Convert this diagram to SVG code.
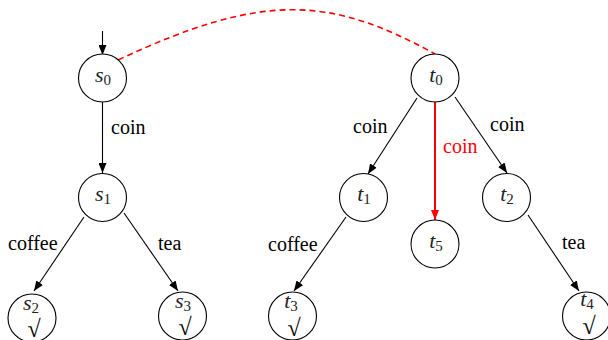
<svg xmlns="http://www.w3.org/2000/svg" width="608" height="340" viewBox="0 0 608 340">
<defs>
<marker id="ah" markerUnits="userSpaceOnUse" markerWidth="11" markerHeight="8" refX="10" refY="4" orient="auto"><path d="M0,0 L10,4 L0,8 z" fill="#000"/></marker>
<marker id="ahr" markerUnits="userSpaceOnUse" markerWidth="11" markerHeight="8" refX="10" refY="4" orient="auto"><path d="M0,0 L10,4 L0,8 z" fill="#f00"/></marker>
</defs>
<g id="connectors" stroke="#000" stroke-width="1.1" fill="none" marker-end="url(#ah)">
<line x1="102.5" y1="31" x2="102.5" y2="55"/>
<line x1="102.5" y1="102" x2="102.5" y2="173"/>
<line x1="84" y1="217" x2="34" y2="291"/>
<line x1="124" y1="213" x2="178" y2="291"/>
<line x1="417" y1="98" x2="368" y2="174"/>
<line x1="435" y1="102" x2="435" y2="220" stroke="#f00" stroke-width="2" marker-end="url(#ahr)"/>
<line x1="455" y1="97" x2="507" y2="173"/>
<line x1="346" y1="217" x2="294" y2="291"/>
<line x1="528" y1="215" x2="579" y2="291"/>
<path d="M118,60 C263,-8 330,-4 435,54" stroke="#f00" stroke-width="1.6" stroke-dasharray="6 4" marker-end="none"/>
</g>
<g id="labels" font-family="Liberation Serif" font-size="20" fill="#000">
<text x="111" y="134">coin</text>
<text x="8" y="250">coffee</text>
<text x="158" y="250">tea</text>
<text x="353" y="133">coin</text>
<text x="490" y="131">coin</text>
<text x="443" y="153" fill="#f00">coin</text>
<text x="268" y="251">coffee</text>
<text x="562" y="249">tea</text>
</g>
<g font-family="Liberation Serif" font-size="22" fill="#222">
<g id="s0"><circle fill="#fff" stroke="#000" stroke-width="1.1" cx="102.5" cy="78" r="24"/><text font-style="italic" x="103" y="82" text-anchor="middle">s<tspan font-style="normal" font-size="15" dy="3">0</tspan></text></g>
<g id="s1"><circle fill="#fff" stroke="#000" stroke-width="1.1" cx="102.5" cy="197.5" r="24"/><text font-style="italic" x="103" y="201" text-anchor="middle">s<tspan font-style="normal" font-size="15" dy="3">1</tspan></text></g>
<g id="s2"><circle fill="#fff" stroke="#000" stroke-width="1.1" cx="32" cy="318" r="24"/><text font-style="italic" x="31" y="310" text-anchor="middle">s<tspan font-style="normal" font-size="15" dy="3">2</tspan></text><text font-size="24" fill="#000" x="34" y="337" text-anchor="middle">√</text></g>
<g id="s3"><circle fill="#fff" stroke="#000" stroke-width="1.1" cx="182.5" cy="316" r="24"/><text font-style="italic" x="183" y="308" text-anchor="middle">s<tspan font-style="normal" font-size="15" dy="3">3</tspan></text><text font-size="24" fill="#000" x="185" y="335" text-anchor="middle">√</text></g>
<g id="t0"><circle fill="#fff" stroke="#000" stroke-width="1.1" cx="435" cy="78" r="24"/><text font-style="italic" x="436" y="82" text-anchor="middle">t<tspan font-style="normal" font-size="15" dy="3">0</tspan></text></g>
<g id="t1"><circle fill="#fff" stroke="#000" stroke-width="1.1" cx="363.5" cy="197.5" r="24"/><text font-style="italic" x="364" y="201" text-anchor="middle">t<tspan font-style="normal" font-size="15" dy="3">1</tspan></text></g>
<g id="t5"><circle fill="#fff" stroke="#000" stroke-width="1.1" cx="435" cy="244" r="24"/><text font-style="italic" x="436" y="248" text-anchor="middle">t<tspan font-style="normal" font-size="15" dy="3">5</tspan></text></g>
<g id="t2"><circle fill="#fff" stroke="#000" stroke-width="1.1" cx="506.5" cy="197.5" r="24"/><text font-style="italic" x="507" y="201" text-anchor="middle">t<tspan font-style="normal" font-size="15" dy="3">2</tspan></text></g>
<g id="t3"><circle fill="#fff" stroke="#000" stroke-width="1.1" cx="292.5" cy="316" r="24"/><text font-style="italic" x="291" y="308" text-anchor="middle">t<tspan font-style="normal" font-size="15" dy="3">3</tspan></text><text font-size="24" fill="#000" x="294" y="336" text-anchor="middle">√</text></g>
<g id="t4"><circle fill="#fff" stroke="#000" stroke-width="1.1" cx="586.5" cy="316" r="24"/><text font-style="italic" x="587" y="306" text-anchor="middle">t<tspan font-style="normal" font-size="15" dy="3">4</tspan></text><text font-size="24" fill="#000" x="589" y="334" text-anchor="middle">√</text></g>
</g>
</svg>
